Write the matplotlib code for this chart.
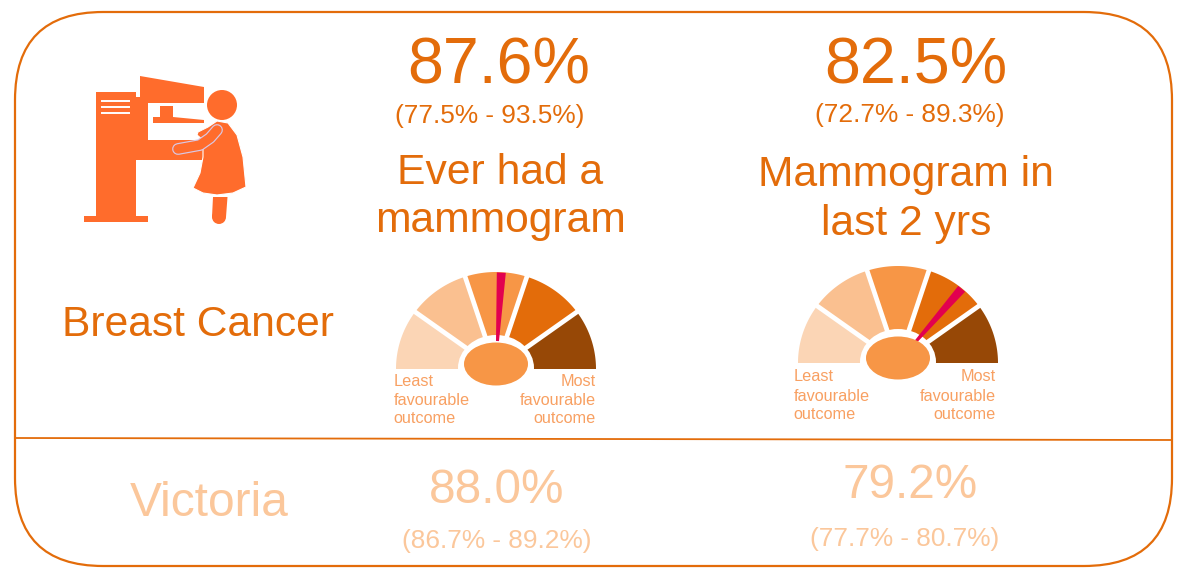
#!/usr/bin/python3

import numpy as np
import matplotlib
matplotlib.use('Agg')
import matplotlib.pyplot as plt
from matplotlib.patches import FancyBboxPatch, Polygon, Ellipse, Circle

plt.rcParams['font.family'] = ['Liberation Sans', 'DejaVu Sans']

# Values shown on the chart
topic = 'Breast Cancer'
region = 'Victoria'
measure_titles = [['Ever had a', 'mammogram'], ['Mammogram in', 'last 2 yrs']]
measure_values = ['87.6%', '82.5%']
measure_cis = ['(77.5% - 93.5%)', '(72.7% - 89.3%)']
region_values = ['88.0%', '79.2%']
region_cis = ['(86.7% - 89.2%)', '(77.7% - 80.7%)']

# Gauge: five equal bands, needle position as a share of the half circle
band_sizes = [1, 1, 1, 1, 1]
band_colors = ['#FBD5B5', '#FAC090', '#F79646', '#E36C0A', '#974806']
needle_shares = [0.517, 0.721]

ORANGE = '#E36C0A'
PALE = '#FBC79B'
SOFT = '#F8A062'
ICON = '#FF6C2C'
NEEDLE = '#E2004F'

fig = plt.figure(figsize=(11.84, 5.68), dpi=100)
ax = fig.add_axes([0, 0, 1, 1])
ax.set_xlim(0, 1184)
ax.set_ylim(568, 0)
ax.axis('off')

# Frame and divider
ax.add_patch(FancyBboxPatch((15, 12), 1157, 554, boxstyle='round,pad=0,rounding_size=88',
                            fc='none', ec=ORANGE, lw=1.6))
ax.plot([15, 1172], [438, 440], color=ORANGE, lw=1.3)


def arc_point(cx, cy, rx, ry, share):
    a = np.pi * (1 - share)
    return cx + rx * np.cos(a), cy - ry * np.sin(a)


def gauge(cx, cy, share):
    rx, ry = 100, 97
    edges = np.cumsum([0] + band_sizes) / sum(band_sizes)
    for i, col in enumerate(band_colors):
        s = np.linspace(edges[i], edges[i + 1], 40)
        x, y = arc_point(cx, cy, rx, ry, s)
        pts = np.column_stack([np.r_[cx, x], np.r_[cy, y]])
        ax.add_patch(Polygon(pts, fc=col, ec='none', zorder=2))
    # white gaps between the bands
    for s in edges[1:-1]:
        x, y = arc_point(cx, cy, rx + 3, ry + 3, s)
        ax.plot([cx, x], [cy, y], color='white', lw=3.4, zorder=3)
    ax.add_patch(Ellipse((cx, cy - 1), 76, 66, fc='white', ec='none', zorder=3))

    # needle is narrow at the hub and wide at the rim
    a = np.pi * (1 - share)
    d = np.array([np.cos(a), -np.sin(a)])
    n = np.array([-d[1], d[0]])
    c = np.array([cx, cy])
    tip = c + d * np.array([rx, ry]) * 0.995
    base = c + d * 28
    ax.add_patch(Polygon([base - n * 1.5, base + n * 1.5, tip + n * 4.5, tip - n * 4.5],
                         fc=NEEDLE, ec='none', zorder=4))
    ax.add_patch(Ellipse((cx, cy - 5), 64, 43, fc='#F79646', ec='none', zorder=5))


def gauge_labels(left, right, ys):
    opts = dict(color=SOFT, fontsize=11.7, va='baseline')
    for txt, y in zip(['Least', 'favourable', 'outcome'], ys):
        ax.text(left, y, txt, ha='left', **opts)
    for txt, y in zip(['Most', 'favourable', 'outcome'], ys):
        ax.text(right, y, txt, ha='right', **opts)


gauge(496, 369, needle_shares[0])
gauge(898, 363, needle_shares[1])
gauge_labels(393.5, 596, [386, 405, 423])
gauge_labels(793.5, 996, [381, 401, 419])

# Big numbers and titles
ax.text(499, 83, measure_values[0], color=ORANGE, fontsize=46.5, ha='center', va='baseline')
ax.text(915.5, 83, measure_values[1], color=ORANGE, fontsize=46.5, ha='center', va='baseline')
ax.text(490, 123, measure_cis[0], color=ORANGE, fontsize=18.9, ha='center', va='baseline')
ax.text(910, 122, measure_cis[1], color=ORANGE, fontsize=18.9, ha='center', va='baseline')
ax.text(500, 184, measure_titles[0][0], color=ORANGE, fontsize=30.7, ha='center', va='baseline')
ax.text(500, 232, measure_titles[0][1], color=ORANGE, fontsize=30.7, ha='center', va='baseline')
ax.text(906, 186, measure_titles[1][0], color=ORANGE, fontsize=30.7, ha='center', va='baseline')
ax.text(906, 235, measure_titles[1][1], color=ORANGE, fontsize=30.7, ha='center', va='baseline')
ax.text(62, 336, topic, color=ORANGE, fontsize=30.7, ha='left', va='baseline')

# Victoria row
ax.text(209, 516, region, color=PALE, fontsize=34.5, ha='center', va='baseline')
ax.text(497, 503, region_values[0], color=PALE, fontsize=34.3, ha='center', va='baseline')
ax.text(910, 498, region_values[1], color=PALE, fontsize=34.3, ha='center', va='baseline')
ax.text(497, 548, region_cis[0], color=PALE, fontsize=18.9, ha='center', va='baseline')
ax.text(905, 546, region_cis[1], color=PALE, fontsize=18.9, ha='center', va='baseline')

# Mammogram icon
machine = [(96, 92), (136, 92), (136, 97), (140, 97), (140, 76), (204, 87), (204, 103),
           (148, 103), (148, 140), (204, 140), (204, 160), (136, 160), (136, 216),
           (148, 216), (148, 222), (84, 222), (84, 216), (96, 216)]
ax.add_patch(Polygon(machine, fc=ICON, ec='none', zorder=2))
plate = [(160, 106), (173, 106), (173, 117), (204, 120), (204, 123), (153, 123), (153, 117), (160, 117)]
ax.add_patch(Polygon(plate, fc=ICON, ec='none', zorder=2))
for y in [101, 107, 113]:
    ax.plot([102, 129], [y, y], color='white', lw=1.4, zorder=3)
ax.add_patch(Circle((222, 105), 15, fc=ICON, ec='none', zorder=2))
dress = [(217, 121), (228, 123), (237, 135), (243, 157), (246, 187), (233, 193), (217, 195),
         (203, 193), (193, 188), (200, 173), (203, 157), (203, 140), (197, 135), (198, 132), (208, 127)]
ax.add_patch(Polygon(dress, fc=ICON, ec='white', lw=0.8, zorder=3))
leg = [(213, 197), (227.5, 197), (226, 217), (212, 217)]
ax.add_patch(Polygon(leg, fc=ICON, ec='none', zorder=2))
ax.add_patch(Circle((219, 217), 7, fc=ICON, ec='none', zorder=2))
arm_x = [178, 200, 210, 217]
arm_y = [149, 145, 138, 130]
ax.plot(arm_x, arm_y, color='#D9C8E6', lw=8.5, solid_capstyle='round', solid_joinstyle='round', zorder=4)
ax.plot(arm_x, arm_y, color=ICON, lw=6.8, solid_capstyle='round', solid_joinstyle='round', zorder=5)

fig.savefig('out.png', dpi=100)
